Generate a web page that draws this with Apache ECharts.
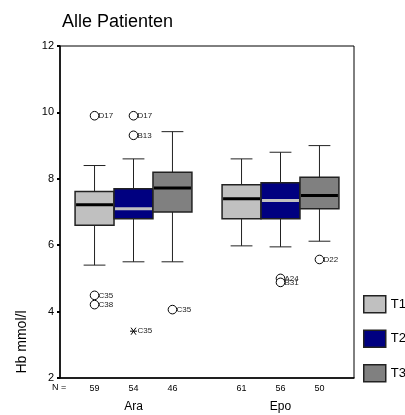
<!DOCTYPE html>
<html>
<head>
<meta charset="utf-8">
<script src="https://cdn.jsdelivr.net/npm/echarts@6/dist/echarts.min.js"></script>
<style>html,body{margin:0;padding:0;background:#fff}#main{width:405px;height:415px}</style>
</head>
<body>
<div id="main"></div>
<script>
var groups = ['Ara', 'Epo'];
var times = ['T1', 'T2', 'T3'];
// [min, q1, median, q3, max] per group (Ara, Epo)
var t1Boxes = [[5.4, 6.6, 7.22, 7.62, 8.4], [5.98, 6.8, 7.4, 7.82, 8.6]];
var t2Boxes = [[5.5, 6.8, 7.1, 7.7, 8.6], [5.95, 6.8, 7.35, 7.88, 8.8]];
var t3Boxes = [[5.5, 7.0, 7.72, 8.2, 9.42], [6.12, 7.1, 7.5, 8.05, 9.0]];
var counts = [[59, 61], [54, 56], [46, 50]];
// outliers: [group, time, value, case, kind]
var outliers = [
  [0, 0, 9.9, 'D17', 'o'],
  [0, 0, 4.49, 'C35', 'o'],
  [0, 0, 4.21, 'C38', 'o'],
  [0, 1, 9.9, 'D17', 'o'],
  [0, 1, 9.31, 'B13', 'o'],
  [0, 1, 3.41, 'C35', '*'],
  [0, 2, 4.06, 'C35', 'o'],
  [1, 1, 5.0, 'A24', 'o'],
  [1, 1, 4.88, 'B31', 'o'],
  [1, 2, 5.57, 'D22', 'o']
];

var fills = ['#c0c0c0', '#000080', '#808080'];
var medianColors = ['#000', '#c0c0c0', '#000'];
var font = 'Liberation Sans, Arial, sans-serif';
var allBoxes = [t1Boxes, t2Boxes, t3Boxes];

var chartDom = document.getElementById('main');
var myChart = echarts.init(chartDom);

function boxRender(ti) {
  return function (params, api) {
    var g = api.value(0);
    var band = api.size([1, 0])[0];
    var bw = band * 0.265;
    var cx = api.coord([g, 2])[0] + (ti - 1) * bw;
    var yMin = api.coord([g, api.value(1)])[1];
    var yQ1 = api.coord([g, api.value(2)])[1];
    var yMed = api.coord([g, api.value(3)])[1];
    var yQ3 = api.coord([g, api.value(4)])[1];
    var yMax = api.coord([g, api.value(5)])[1];
    var yBase = api.coord([g, 2])[1];
    var cap = bw * 0.28;
    var ws = { stroke: '#222', lineWidth: 1 };
    return {
      type: 'group',
      children: [
        { type: 'line', shape: { x1: cx, y1: yMax, x2: cx, y2: yQ3 }, style: ws },
        { type: 'line', shape: { x1: cx, y1: yQ1, x2: cx, y2: yMin }, style: ws },
        { type: 'line', shape: { x1: cx - cap, y1: yMax, x2: cx + cap, y2: yMax }, style: ws },
        { type: 'line', shape: { x1: cx - cap, y1: yMin, x2: cx + cap, y2: yMin }, style: ws },
        { type: 'rect', shape: { x: cx - bw / 2, y: yQ3, width: bw, height: yQ1 - yQ3 },
          style: { fill: fills[ti], stroke: '#222', lineWidth: 1.5 } },
        { type: 'line', shape: { x1: cx - bw / 2 + 1, y1: yMed, x2: cx + bw / 2 - 1, y2: yMed },
          style: { stroke: medianColors[ti], lineWidth: 3 } },
        { type: 'text', x: cx, y: yBase + 11,
          style: { text: String(api.value(6)), fontSize: 9, fontFamily: font, fill: '#000',
                   align: 'center', verticalAlign: 'middle' } }
      ]
    };
  };
}

function outlierRender(params, api) {
  var g = api.value(0);
  var ti = api.value(2);
  var band = api.size([1, 0])[0];
  var bw = band * 0.265;
  var p = api.coord([g, api.value(1)]);
  var cx = p[0] + (ti - 1) * bw;
  var cy = p[1];
  var o = outliers[params.dataIndex];
  var children = [];
  if (o[4] === '*') {
    var s = 3.5;
    var st = { stroke: '#000', lineWidth: 1 };
    children.push(
      { type: 'line', shape: { x1: cx - s, y1: cy, x2: cx + s, y2: cy }, style: st },
      { type: 'line', shape: { x1: cx - s * 0.7, y1: cy - s, x2: cx + s * 0.7, y2: cy + s }, style: st },
      { type: 'line', shape: { x1: cx - s * 0.7, y1: cy + s, x2: cx + s * 0.7, y2: cy - s }, style: st }
    );
  } else {
    children.push({ type: 'circle', shape: { cx: cx, cy: cy, r: 4.3 },
      style: { fill: '#fff', stroke: '#000', lineWidth: 1 } });
  }
  children.push({ type: 'text', x: cx + 4, y: cy,
    style: { text: o[3], fontSize: 8, fontFamily: font, fill: '#222', align: 'left', verticalAlign: 'middle' } });
  return { type: 'group', children: children };
}

var series = times.map(function (t, ti) {
  return {
    name: t,
    type: 'custom',
    renderItem: boxRender(ti),
    itemStyle: { color: fills[ti], borderColor: '#222', borderWidth: 1.5 },
    encode: { x: 0, y: [1, 2, 3, 4, 5] },
    data: allBoxes[ti].map(function (b, g) {
      return [g].concat(b).concat([counts[ti][g]]);
    }),
    z: 2
  };
});

series.push({
  name: 'Ausreißer',
  type: 'custom',
  renderItem: outlierRender,
  encode: { x: 0, y: 1 },
  data: outliers.map(function (o) { return [o[0], o[2], o[1]]; }),
  z: 3
});

var option = {
  animation: false,
  title: {
    text: 'Alle Patienten',
    left: 57,
    top: 8,
    textStyle: { fontSize: 18, fontWeight: 'normal', color: '#000', fontFamily: font }
  },
  legend: {
    orient: 'vertical',
    left: 363,
    top: 295,
    padding: 0,
    itemWidth: 22,
    itemHeight: 17,
    itemGap: 16,
    icon: 'rect',
    textStyle: { fontSize: 13, color: '#000', fontFamily: font },
    data: times.map(function (t, ti) {
      return { name: t, itemStyle: { color: fills[ti], borderColor: '#222', borderWidth: 1.5 } };
    })
  },
  grid: {
    left: 60, top: 46, right: 51, bottom: 37,
    show: true, borderColor: '#000', borderWidth: 1
  },
  xAxis: {
    type: 'category',
    data: groups,
    axisLine: { lineStyle: { color: '#000', width: 1.5 } },
    axisTick: { alignWithLabel: true, length: 3, lineStyle: { color: '#000', width: 2 } },
    axisLabel: { margin: 23, fontSize: 12, color: '#000', fontFamily: font }
  },
  yAxis: {
    type: 'value',
    min: 2,
    max: 12,
    interval: 2,
    axisLine: { show: true, lineStyle: { color: '#000', width: 1.5 } },
    axisTick: { show: true, length: 3, lineStyle: { color: '#000', width: 2 } },
    axisLabel: { margin: 6, fontSize: 11, color: '#000', fontFamily: font },
    splitLine: { show: false }
  },
  graphic: [
    { type: 'text', left: 52, top: 383,
      style: { text: 'N =', fontSize: 9, fontFamily: font, fill: '#000' } },
    { type: 'text', x: 22, y: 342, rotation: Math.PI / 2,
      style: { text: 'Hb mmol/l', fontSize: 14, fontFamily: font, fill: '#000',
               align: 'center', verticalAlign: 'middle' } }
  ],
  series: series
};

option && myChart.setOption(option);
</script>
</body>
</html>
